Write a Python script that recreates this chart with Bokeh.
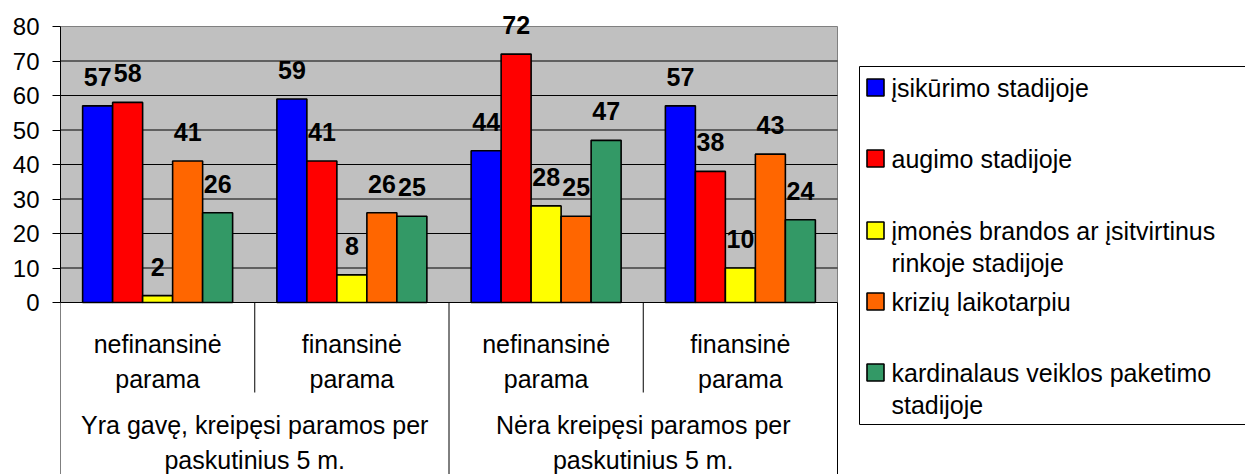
from bokeh.plotting import figure
from bokeh.models import Range1d, FixedTicker
from bokeh.core.properties import value
from bokeh.embed import file_html
from bokeh.resources import INLINE

# ---------------- data ----------------
series_names = [
    "įsikūrimo stadijoje",
    "augimo stadijoje",
    "įmonės brandos ar įsitvirtinus\nrinkoje stadijoje",
    "krizių laikotarpiu",
    "kardinalaus veiklos paketimo\nstadijoje",
]
sub_categories = ["nefinansinė\nparama", "finansinė\nparama", "nefinansinė\nparama", "finansinė\nparama"]
top_categories = ["Yra gavę, kreipęsi paramos per\npaskutinius 5 m.", "Nėra kreipęsi paramos per\npaskutinius 5 m."]

isikurimo = [57, 59, 44, 57]
augimo = [58, 41, 72, 38]
brandos = [2, 8, 28, 10]
kriziu = [41, 26, 25, 43]
kardinalaus = [26, 25, 47, 24]

y_ticks = [0, 10, 20, 30, 40, 50, 60, 70, 80]
colors = ["#0000FF", "#FF0000", "#FFFF00", "#FF6600", "#339966"]

all_series = [isikurimo, augimo, brandos, kriziu, kardinalaus]

# ---------------- layout (page pixels) ----------------
W, H = 1245, 474
PAGE_L, PAGE_T = 0, 0
PLOT_L, PLOT_R = 60, 837          # plot area horizontal extent
PLOT_T, PLOT_B = 26, 302          # plot area vertical extent
YMAX = y_ticks[-1]
NCAT = len(sub_categories)
px_x = (PLOT_R - PLOT_L) / NCAT   # pixels per category
px_y = (PLOT_B - PLOT_T) / YMAX   # pixels per unit

def dx(px):
    return (px - PLOT_L) / px_x

def dy(py):
    return (PLOT_B - py) / px_y

FONT = value("Liberation Sans")

p = figure(
    width=W, height=H, output_backend="svg", toolbar_location=None,
    x_range=Range1d(dx(PLOT_L), dx(PAGE_L + W)),
    y_range=Range1d(dy(PAGE_T + H), dy(PAGE_T)),
    min_border_left=PLOT_L - PAGE_L, min_border_right=0,
    min_border_top=0, min_border_bottom=0,
    x_axis_type=None,
)
p.outline_line_color = None
p.xgrid.visible = False
p.ygrid.visible = False
p.background_fill_color = "white"
p.border_fill_color = "white"

# plot area background
p.quad(left=0, right=NCAT, bottom=0, top=YMAX, fill_color="#C0C0C0",
       line_color="#808080", line_width=1)
# gridlines
grid_y = [t for t in y_ticks if 0 < t < YMAX]
p.segment(x0=[0] * len(grid_y), x1=[NCAT] * len(grid_y), y0=grid_y, y1=grid_y,
          line_color="#000000", line_width=1)

# y axis
ax = p.yaxis[0]
ax.ticker = FixedTicker(ticks=y_ticks)
ax.bounds = (0, YMAX)
ax.axis_line_color = "black"
ax.axis_line_width = 1
ax.major_tick_in = 0
ax.major_tick_out = 8
ax.minor_tick_line_color = None
ax.major_tick_line_color = "black"
ax.major_label_standoff = 13
ax.major_label_text_font = "Liberation Sans"
ax.major_label_text_font_size = "24px"
ax.major_label_text_color = "black"

# bars
bw = 30 / px_x
nser = len(all_series)
for s, vals in enumerate(all_series):
    xs = [g + 0.5 + (s - (nser - 1) / 2) * bw for g in range(NCAT)]
    p.vbar(x=xs, top=vals, bottom=0, width=bw, fill_color=colors[s],
           line_color="black", line_width=1.6)

# x axis line at zero
p.segment(x0=[0], x1=[NCAT], y0=[0], y1=[0], line_color="black", line_width=1)

# data labels
lab_off = 29 / px_y
for s, vals in enumerate(all_series):
    xs = [g + 0.5 + (s - (nser - 1) / 2) * bw for g in range(NCAT)]
    p.text(x=xs, y=[v + lab_off for v in vals], text=[str(v) for v in vals],
           text_font=FONT, text_font_size="25px", text_font_style="bold",
           text_align="center", text_baseline="middle", text_color="black")

# category table lines
bottom = dy(PAGE_T + H)
mid_y = dy(392)
full_x = [0, NCAT // 2, NCAT]
p.segment(x0=full_x, x1=full_x, y0=[0] * 3, y1=[bottom] * 3, line_color="black", line_width=1)
half_x = [1, 3]
p.segment(x0=half_x, x1=half_x, y0=[0] * 2, y1=[mid_y] * 2, line_color="black", line_width=1)

# sub category labels
sub_line_y = [343, 378]
for g, lab in enumerate(sub_categories):
    for i, line in enumerate(lab.split("\n")):
        p.text(x=[g + 0.5], y=[dy(sub_line_y[i])], text=[line], text_font=FONT,
               text_font_size="25px", text_align="center", text_baseline="middle",
               text_color="black")

# top categories
top_line_y = [424, 459]
span = NCAT // len(top_categories)
for k, lab in enumerate(top_categories):
    for i, line in enumerate(lab.split("\n")):
        p.text(x=[k * span + span / 2], y=[dy(top_line_y[i])], text=[line], text_font=FONT,
               text_font_size="25px", text_align="center", text_baseline="middle",
               text_color="black")

# legend box
LG_L, LG_T, LG_B = 859, 66, 424
LG_R = PAGE_L + W + 20
p.segment(x0=[dx(LG_L), dx(LG_L), dx(LG_L)], x1=[dx(LG_R), dx(LG_R), dx(LG_L)],
          y0=[dy(LG_T), dy(LG_B), dy(LG_T)], y1=[dy(LG_T), dy(LG_B), dy(LG_B)],
          line_color="black", line_width=1)

entry_y = [87, 158, 230, 301, 372]
line_gap = 32
for s, name in enumerate(series_names):
    cy = entry_y[s]
    p.rect(x=[dx(875)], y=[dy(cy)], width=17, height=17, width_units="screen",
           height_units="screen", fill_color=colors[s], line_color="black", line_width=1.6)
    for i, line in enumerate(name.split("\n")):
        p.text(x=[dx(891)], y=[dy(cy + i * line_gap)], text=[line], text_font=FONT,
               text_font_size="25px", text_align="left", text_baseline="middle",
               text_color="black")

open("out.html", "w").write(file_html(p, INLINE))
